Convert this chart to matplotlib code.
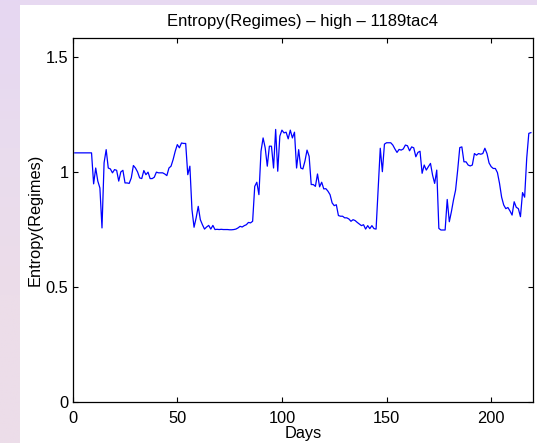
import numpy as np
import matplotlib
matplotlib.use("Agg")
import matplotlib.pyplot as plt
from matplotlib.patches import Rectangle

# Daily entropy of the regime distribution, days 1..219
entropy = [
    1.083, 1.083, 1.083, 1.083, 1.083, 1.083, 1.083, 1.083, 1.083, 0.948,   # 1-10
    1.017, 0.960, 0.930, 0.756, 1.040, 1.097, 1.017, 1.013, 0.996, 1.010,   # 11-20
    1.007, 0.960, 1.000, 1.007, 0.952, 0.952, 0.950, 0.974, 1.028, 1.017,   # 21-30
    1.000, 0.974, 0.971, 1.006, 0.988, 0.999, 0.971, 0.971, 0.977, 0.999,   # 31-40
    0.996, 0.996, 0.996, 0.991, 0.984, 1.017, 1.025, 1.054, 1.090, 1.119,   # 41-50
    1.105, 1.126, 1.124, 1.124, 0.988, 1.025, 0.836, 0.759, 0.800, 0.850,   # 51-60
    0.792, 0.770, 0.751, 0.760, 0.767, 0.751, 0.767, 0.749, 0.750, 0.749,   # 61-70
    0.750, 0.749, 0.749, 0.749, 0.748, 0.748, 0.749, 0.751, 0.756, 0.763,   # 71-80
    0.760, 0.766, 0.770, 0.780, 0.778, 0.785, 0.937, 0.955, 0.901, 1.090,   # 81-90
    1.148, 1.105, 1.025, 1.112, 1.112, 1.017, 1.185, 1.003, 1.156, 1.182,   # 91-100
    1.170, 1.173, 1.144, 1.182, 1.148, 1.173, 1.017, 1.097, 1.017, 1.013,   # 101-110
    1.047, 1.095, 1.068, 0.945, 0.945, 0.937, 0.991, 0.935, 0.955, 0.926,   # 111-120
    0.927, 0.916, 0.901, 0.865, 0.853, 0.857, 0.810, 0.807, 0.807, 0.800,   # 121-130
    0.800, 0.795, 0.785, 0.792, 0.788, 0.780, 0.773, 0.766, 0.770, 0.751,   # 131-140
    0.766, 0.753, 0.766, 0.753, 0.751, 0.930, 1.103, 1.001, 1.121, 1.127,   # 141-150
    1.127, 1.127, 1.117, 1.100, 1.085, 1.098, 1.095, 1.100, 1.117, 1.114,   # 151-160
    1.092, 1.109, 1.105, 1.066, 1.085, 1.090, 0.994, 1.030, 1.008, 1.023,   # 161-170
    1.037, 0.986, 0.950, 1.008, 0.754, 0.747, 0.747, 0.747, 0.880, 0.783,   # 171-180
    0.827, 0.878, 0.921, 1.008, 1.106, 1.109, 1.044, 1.044, 1.030, 1.026,   # 181-190
    1.030, 1.080, 1.073, 1.080, 1.077, 1.080, 1.103, 1.080, 1.039, 1.023,   # 191-200
    1.015, 1.015, 0.997, 0.950, 0.890, 0.856, 0.840, 0.845, 0.830, 0.812,   # 201-210
    0.870, 0.846, 0.840, 0.805, 0.910, 0.890, 1.060, 1.168, 1.171,          # 211-219
]
days = np.arange(1, len(entropy) + 1)

x_ticks = [0, 50, 100, 150, 200]
y_ticks = [0, 0.5, 1, 1.5]
y_tick_labels = ["0", "0.5", "1", "1.5"]

plt.rcParams["font.family"] = ["Liberation Sans", "DejaVu Sans"]

W, H = 537, 443
fig = plt.figure(figsize=(W / 100, H / 100), dpi=100)
fig.patch.set_facecolor("#e7d9f1")

# pale wallpaper strip on the left and top, white page behind the plot
bg = fig.add_axes([0, 0, 1, 1], zorder=-10)
bg.set_xlim(0, W)
bg.set_ylim(H, 0)
bg.axis("off")
grad = np.linspace(0, 1, 256).reshape(-1, 1)
bg.imshow(grad, extent=[0, 20, H, 0], aspect="auto",
          cmap=matplotlib.colors.LinearSegmentedColormap.from_list(
              "strip", ["#e6d7f2", "#e9dcee", "#ecdde9", "#ecdde9"]))
bg.add_patch(Rectangle((20, 5), W - 20, H - 5, facecolor="white", edgecolor="none"))

ax = fig.add_axes([72.7 / W, 1 - 401.5 / H, (533 - 72.7) / W, (401.5 - 38.3) / H])
ax.plot(days, entropy, color="#0000ff", linewidth=0.9)

ax.set_xlim(0, 220)
ax.set_ylim(0, 1.582)
ax.set_xticks(x_ticks)
ax.set_yticks(y_ticks)
ax.set_yticklabels(y_tick_labels)
ax.tick_params(direction="in", length=3.5, width=0.8, top=True, right=True,
               labelsize=11.8)
ax.tick_params(axis="x", pad=6.5)
ax.tick_params(axis="y", pad=3)
for s in ax.spines.values():
    s.set_linewidth(0.9)

ax.set_title("Entropy(Regimes) \u2013 high \u2013 1189tac4", fontsize=12, pad=8.5)
ax.set_xlabel("Days", fontsize=11.8, labelpad=0)
ax.set_ylabel("Entropy(Regimes)", fontsize=11.8, labelpad=2)

fig.savefig("out.png", dpi=100)
